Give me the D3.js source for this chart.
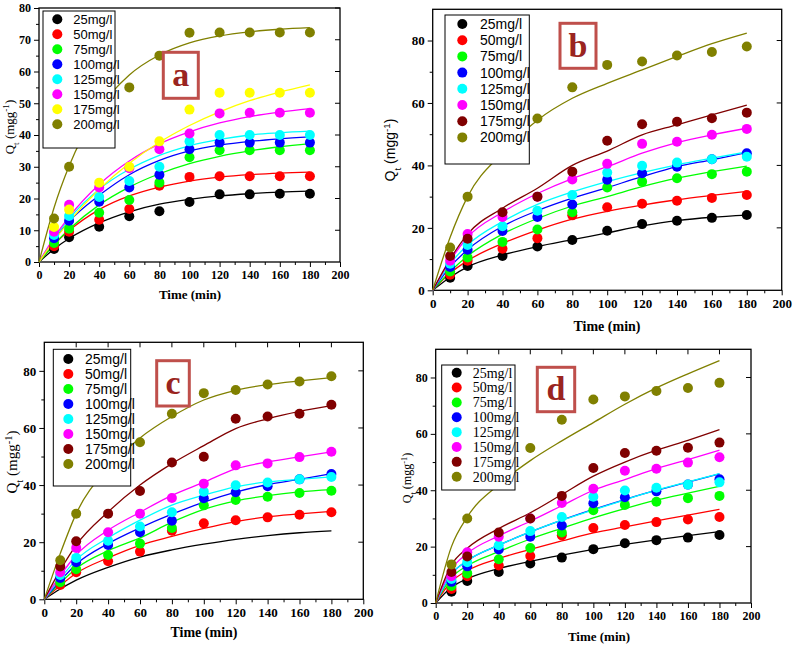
<!DOCTYPE html>
<html>
<head>
<meta charset="utf-8">
<script src="https://cdn.jsdelivr.net/npm/d3@7"></script>
<style>
  body { margin: 0; background: #fff; }
</style>
</head>
<body>
<div id="chart"></div>
<script>
// sampling times of the experiment (min) and times where the fitted curves were read
const times = [10, 20, 40, 60, 80, 100, 120, 140, 160, 180];
const fitTimes = [0, 10, 20, 40, 60, 80, 100, 120, 140, 160, 180];
const concentrations = ['25mg/l', '50mg/l', '75mg/l', '100mg/l', '125mg/l', '150mg/l', '175mg/l', '200mg/l'];

// experimental Qt, one row per concentration
const qA = [
    [4.1, 7.8, 11.1, 14.4, 16.0, 18.9, 21.3, 21.3, 21.5, 21.5],
    [5.0, 9.5, 13.3, 16.7, 24.0, 26.8, 27.0, 27.0, 27.0, 27.0],
    [6.0, 10.5, 15.5, 19.5, 25.0, 33.0, 35.2, 35.2, 35.2, 35.2],
    [7.5, 13.0, 19.0, 23.5, 27.5, 35.5, 37.6, 37.6, 37.6, 37.6],
    [8.5, 14.5, 20.5, 25.5, 30.0, 38.0, 40.0, 40.0, 40.0, 40.0],
    [9.5, 18.0, 23.5, 29.5, 35.5, 40.5, 46.8, 47.0, 47.0, 47.0],
    [11.0, 16.5, 25.0, 30.0, 38.0, 48.0, 53.3, 53.3, 53.3, 53.3],
    [13.7, 30.0, 45.0, 55.0, 65.0, 72.2, 72.3, 72.3, 72.3, 72.3]
];
const qB = [
    [4.0, 7.8, 11.0, 14.0, 16.1, 19.1, 21.2, 22.3, 23.2, 24.1],
    [5.0, 9.5, 13.3, 16.7, 24.0, 26.6, 27.7, 28.7, 29.6, 30.5],
    [6.0, 10.5, 15.5, 19.5, 25.0, 32.9, 34.8, 35.9, 37.2, 38.0],
    [7.5, 13.0, 19.0, 23.5, 27.5, 35.4, 37.5, 39.6, 42.0, 43.9],
    [8.5, 14.5, 20.5, 25.5, 30.5, 37.7, 39.9, 40.9, 42.0, 42.8],
    [9.5, 18.0, 23.5, 30.0, 35.5, 40.5, 46.9, 47.6, 49.8, 51.7],
    [11.0, 16.5, 25.0, 30.0, 38.0, 47.9, 53.2, 54.0, 55.1, 56.9],
    [13.7, 30.0, 45.0, 55.0, 65.0, 72.2, 73.3, 75.2, 76.3, 78.1]
];
const qC = [
    [],
    [5.0, 9.5, 13.3, 16.7, 24.0, 26.6, 27.7, 28.7, 29.6, 30.5],
    [6.0, 10.5, 15.5, 19.5, 25.0, 32.9, 34.8, 35.9, 37.2, 38.0],
    [7.5, 13.0, 19.0, 23.5, 27.5, 35.4, 37.5, 39.6, 42.0, 43.9],
    [8.5, 14.5, 20.5, 25.5, 30.5, 37.7, 39.9, 40.9, 42.0, 42.8],
    [9.5, 18.0, 23.5, 30.0, 35.5, 40.5, 46.9, 47.6, 49.8, 51.7],
    [11.5, 20.3, 30.0, 37.9, 47.9, 49.9, 63.2, 64.0, 65.0, 68.1],
    [13.7, 30.0, 45.0, 55.0, 65.0, 72.2, 73.3, 75.2, 76.3, 78.1]
];
const qD = qB;

// model curves at fitTimes
const fitA = [
    [0, 4.1, 7.4, 12.3, 15.8, 18.2, 19.7, 20.8, 21.5, 22.0, 22.3],
    [0, 5.5, 9.9, 16.5, 20.8, 23.6, 25.5, 26.7, 27.5, 28.0, 28.3],
    [0, 5.5, 10.3, 18.0, 23.6, 27.8, 31.0, 33.3, 35.0, 36.3, 37.3],
    [0, 7.0, 12.8, 21.0, 27.5, 32.0, 35.0, 36.8, 38.0, 38.8, 39.4],
    [0, 7.4, 13.6, 22.9, 29.2, 33.6, 36.6, 38.6, 40.0, 40.7, 41.2],
    [0, 7.7, 14.2, 24.4, 31.8, 37.2, 41.0, 43.8, 45.8, 47.2, 48.3],
    [0, 6.7, 12.7, 22.9, 31.1, 37.7, 43.0, 47.3, 50.8, 53.5, 55.8],
    [0, 17.1, 30.2, 48.2, 58.9, 65.2, 69.0, 71.2, 72.5, 73.3, 73.8]
];
const fitB = [
    [0, 4.2, 7.5, 11.3, 14.0, 16.2, 18.4, 20.6, 22.3, 23.4, 24.1],
    [0, 5.5, 9.5, 15.0, 19.3, 22.8, 25.3, 27.3, 29.0, 30.4, 31.7],
    [0, 6.0, 11.0, 18.0, 23.0, 27.0, 30.0, 33.2, 35.9, 38.0, 39.8],
    [0, 7.5, 13.0, 20.5, 25.5, 29.5, 32.9, 36.4, 39.6, 41.8, 44.1],
    [0, 8.5, 14.5, 22.0, 27.5, 31.5, 34.8, 37.7, 40.2, 42.3, 44.3],
    [0, 9.5, 17.0, 25.0, 31.0, 35.8, 39.6, 43.9, 47.3, 49.8, 51.9],
    [0, 10.0, 18.0, 26.3, 32.7, 40.0, 44.6, 49.8, 53.0, 56.2, 59.3],
    [0, 17.0, 30.0, 44.0, 54.5, 61.5, 66.3, 70.6, 74.9, 79.0, 82.4]
];
const fitC = [
    [0, 3.6, 6.7, 11.2, 14.8, 17.3, 19.3, 21.0, 22.3, 23.3, 24.0],
    [0, 4.8, 9.1, 14.5, 18.9, 22.0, 24.8, 27.2, 28.9, 29.9, 30.8],
    [0, 5.7, 10.8, 17.0, 21.5, 27.0, 31.5, 34.5, 36.3, 37.6, 38.4],
    [0, 6.5, 12.3, 19.5, 25.0, 29.8, 34.0, 37.5, 40.2, 42.0, 44.0],
    [0, 7.3, 13.8, 21.5, 27.7, 33.0, 36.5, 39.4, 41.1, 42.0, 42.9],
    [0, 8.3, 15.5, 24.2, 30.5, 36.4, 41.0, 45.7, 48.1, 49.9, 51.6],
    [0, 10.2, 19.0, 30.6, 40.0, 47.5, 53.8, 59.8, 63.2, 65.8, 67.8],
    [0, 16.0, 30.0, 46.0, 56.5, 64.0, 69.8, 73.2, 75.2, 76.5, 77.6]
];
const fitD = [
    [0, 5.6, 8.6, 12.2, 14.8, 17.0, 19.0, 20.8, 22.4, 23.9, 25.3],
    [0, 7.6, 11.5, 15.8, 19.0, 22.0, 24.9, 27.0, 29.1, 31.2, 33.2],
    [0, 9.0, 13.2, 18.2, 22.7, 26.5, 30.2, 33.5, 36.5, 39.0, 41.4],
    [0, 10.3, 15.0, 20.5, 25.2, 29.4, 33.2, 36.7, 40.0, 42.9, 45.8],
    [0, 10.3, 15.0, 20.5, 25.2, 29.4, 33.0, 36.6, 40.0, 43.0, 45.9],
    [0, 12.0, 17.6, 23.8, 29.0, 34.5, 40.0, 43.8, 47.7, 50.9, 54.2],
    [0, 13.5, 19.4, 26.4, 32.0, 38.5, 45.0, 50.0, 54.2, 57.7, 61.5],
    [0, 20.0, 30.5, 42.0, 50.5, 57.5, 64.0, 70.5, 76.3, 81.3, 86.0]
];

const colorsA = ['#000000', '#ff0000', '#00ff00', '#0000ff', '#00ffff', '#ff00ff', '#ffff00', '#808000'];
const colorsB = ['#000000', '#ff0000', '#00ff00', '#0000ff', '#00ffff', '#ff00ff', '#800000', '#808000'];

const SERIF = '"Liberation Serif", "Times New Roman", serif';
const SANS = '"Liberation Sans", Arial, sans-serif';

const panels = [
    {
        tag: 'a', q: qA, fit: fitA, colors: colorsA,
        left: 39, right: 340, top: 8, bottom: 262, yMax: 80, yStep: 10, topTicks: false,
        tickFont: 12,
        legend: { x0: 43, x1: 115, y0: 11, y1: 148, first: 19.3, step: 15.0, mx: 57.3, tx: 73.3, font: SANS, size: 13 },
        box: { x0: 163.3, x1: 198.3, y0: 52.3, y1: 98.3 },
        xTitle: { x: 190, y: 299, size: 13 },
        yTitle: { x: 14, y: 127, font: SERIF, size: 13 }
    },
    {
        tag: 'b', q: qB, fit: fitB, colors: colorsB,
        left: 432.7, right: 781.7, top: 9.3, bottom: 290.3, yMax: 90, yStep: 20, topTicks: false,
        tickFont: 13,
        legend: { x0: 445, x1: 529.3, y0: 15, y1: 164, first: 24, step: 16.2, mx: 462.3, tx: 480, font: SANS, size: 14 },
        box: { x0: 560, x1: 596, y0: 23.3, y1: 68.3 },
        xTitle: { x: 607, y: 331, size: 14 },
        yTitle: { x: 395, y: 150, font: SANS, size: 14 }
    },
    {
        tag: 'c', q: qC, fit: fitC, colors: colorsB,
        left: 44.3, right: 363.3, top: 342.3, bottom: 599.3, yMax: 90, yStep: 20, topTicks: true,
        tickFont: 13,
        legend: { x0: 53.3, x1: 130.7, y0: 349.3, y1: 486, first: 359, step: 15, mx: 68.3, tx: 85, font: SANS, size: 14 },
        box: { x0: 156.7, x1: 189.3, y0: 360.7, y1: 406 },
        xTitle: { x: 204, y: 637, size: 14 },
        yTitle: { x: 17, y: 462, font: SERIF, size: 15 }
    },
    {
        tag: 'd', q: qD, fit: fitD, colors: colorsB,
        left: 435.7, right: 751, top: 349.3, bottom: 603, yMax: 90, yStep: 20, topTicks: true,
        tickFont: 12,
        legend: { x0: 441.7, x1: 515, y0: 365, y1: 490, first: 372.7, step: 14.86, mx: 456.7, tx: 472.7, font: SERIF, size: 14 },
        box: { x0: 537.3, x1: 574.7, y0: 367.3, y1: 411.7 },
        xTitle: { x: 599, y: 641, size: 13 },
        yTitle: { x: 411, y: 478, font: SERIF, size: 12 }
    }
];

const svg = d3.select('#chart')
    .append('svg')
    .attr('width', 793)
    .attr('height', 645)
    .style('background', '#fff');

function drawPanel(p) {
    const x = d3.scaleLinear().domain([0, 200]).range([p.left, p.right]);
    const y = d3.scaleLinear().domain([0, p.yMax]).range([p.bottom, p.top]);
    const g = svg.append('g');

    const majorX = d3.range(0, 201, 20);
    const minorX = d3.range(10, 200, 20);
    const majorY = d3.range(0, 80.1, p.yStep);   // labels stop at 80 in every panel
    const minorY = d3.range(p.yStep / 2, p.yMax, p.yStep);

    // bottom axis, outward ticks
    const xAxis = g.append('g')
        .attr('transform', `translate(0,${p.bottom})`)
        .call(d3.axisBottom(x).tickValues(majorX).tickSize(5).tickPadding(3).tickSizeOuter(0));
    g.append('g')
        .attr('transform', `translate(0,${p.bottom})`)
        .call(d3.axisBottom(x).tickValues(minorX).tickSize(3).tickFormat('').tickSizeOuter(0));

    // left axis
    const yAxis = g.append('g')
        .attr('transform', `translate(${p.left},0)`)
        .call(d3.axisLeft(y).tickValues(majorY).tickSize(5).tickPadding(3).tickSizeOuter(0));
    g.append('g')
        .attr('transform', `translate(${p.left},0)`)
        .call(d3.axisLeft(y).tickValues(minorY).tickSize(3).tickFormat('').tickSizeOuter(0));

    [xAxis, yAxis].forEach(a => a.selectAll('text')
        .style('font-family', SERIF)
        .style('font-weight', 'bold')
        .style('font-size', p.tickFont + 'px')
        .attr('fill', '#000'));
    g.selectAll('.domain').remove();
    g.selectAll('.tick line').attr('stroke', '#000').attr('stroke-width', 1);

    // inward ticks on the right (and top for c, d)
    g.append('g').selectAll('line')
        .data(majorY.slice(1))
        .join('line')
        .attr('x1', p.right).attr('x2', p.right - 5)
        .attr('y1', d => y(d)).attr('y2', d => y(d))
        .attr('stroke', '#000');
    if (p.topTicks) {
        g.append('g').selectAll('line')
            .data(majorX.slice(1, -1))
            .join('line')
            .attr('x1', d => x(d)).attr('x2', d => x(d))
            .attr('y1', p.top).attr('y2', p.top + 5)
            .attr('stroke', '#000');
    }

    // frame
    g.append('rect')
        .attr('x', p.left).attr('y', p.top)
        .attr('width', p.right - p.left).attr('height', p.bottom - p.top)
        .attr('fill', 'none')
        .attr('stroke', '#000')
        .attr('stroke-width', 1.3);

    // fitted curves
    const line = d3.line()
        .x((d, i) => x(fitTimes[i]))
        .y(d => y(d))
        .curve(d3.curveMonotoneX);
    g.append('g').selectAll('path')
        .data(p.fit)
        .join('path')
        .attr('d', line)
        .attr('fill', 'none')
        .attr('stroke', (d, i) => p.colors[i])
        .attr('stroke-width', 1.3);

    // experimental points
    p.q.forEach((series, i) => {
        g.append('g').selectAll('circle')
            .data(series)
            .join('circle')
            .attr('cx', (d, j) => x(times[j]))
            .attr('cy', d => y(d))
            .attr('r', 5)
            .attr('fill', p.colors[i]);
    });

    // legend
    const L = p.legend;
    const leg = g.append('g');
    leg.append('rect')
        .attr('x', L.x0).attr('y', L.y0)
        .attr('width', L.x1 - L.x0).attr('height', L.y1 - L.y0)
        .attr('fill', '#fff')
        .attr('stroke', '#000')
        .attr('stroke-width', 1);
    concentrations.forEach((c, i) => {
        const cy = L.first + i * L.step;
        leg.append('circle')
            .attr('cx', L.mx).attr('cy', cy).attr('r', 5)
            .attr('fill', p.colors[i]);
        leg.append('text')
            .attr('x', L.tx).attr('y', cy)
            .attr('dy', '0.35em')
            .style('font-family', L.font)
            .style('font-size', L.size + 'px')
            .text(c);
    });

    // panel letter box
    const B = p.box;
    g.append('rect')
        .attr('x', B.x0).attr('y', B.y0)
        .attr('width', B.x1 - B.x0).attr('height', B.y1 - B.y0)
        .attr('fill', '#fff')
        .attr('stroke', '#bf4f4b')
        .attr('stroke-width', 3);
    g.append('text')
        .attr('x', (B.x0 + B.x1) / 2)
        .attr('y', (B.y0 + B.y1) / 2)
        .attr('dy', '0.32em')
        .attr('text-anchor', 'middle')
        .style('font-family', SERIF)
        .style('font-weight', 'bold')
        .style('font-size', '34px')
        .attr('fill', '#9a2420')
        .text(p.tag);

    // axis titles
    g.append('text')
        .attr('x', p.xTitle.x).attr('y', p.xTitle.y)
        .attr('text-anchor', 'middle')
        .style('font-family', SERIF)
        .style('font-weight', 'bold')
        .style('font-size', p.xTitle.size + 'px')
        .text('Time (min)');

    const yt = g.append('text')
        .attr('transform', `translate(${p.yTitle.x},${p.yTitle.y}) rotate(-90)`)
        .attr('text-anchor', 'middle')
        .style('font-family', p.yTitle.font)
        .style('font-size', p.yTitle.size + 'px');
    yt.append('tspan').text('Q');
    yt.append('tspan').attr('baseline-shift', 'sub').style('font-size', '0.7em').text('t');
    yt.append('tspan').text(' (mgg');
    yt.append('tspan').attr('baseline-shift', 'super').style('font-size', '0.7em').text('-1');
    yt.append('tspan').text(')');
}

panels.forEach(drawPanel);
</script>
</body>
</html>
